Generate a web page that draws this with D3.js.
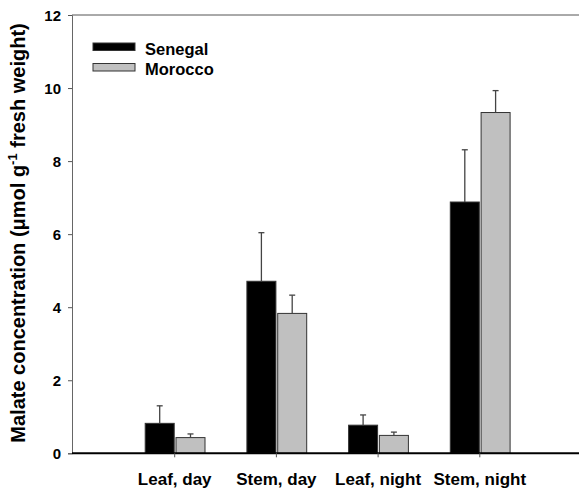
<!DOCTYPE html>
<html>
<head>
<meta charset="utf-8">
<script src="https://cdn.jsdelivr.net/npm/d3@7"></script>
<style>
  body { margin: 0; background: #fff; }
  text { font-family: Arial, "Liberation Sans", sans-serif; font-weight: bold; }
</style>
</head>
<body>
<div id="chart"></div>
<script>
// data
var categories = ["Leaf, day", "Stem, day", "Leaf, night", "Stem, night"]
var senegal    = [0.82, 4.71, 0.77, 6.88]
var senegalErr = [0.48, 1.33, 0.28, 1.43]
var morocco    = [0.43, 3.83, 0.49, 9.33]
var moroccoErr = [0.10, 0.50, 0.09, 0.60]
var yTicks = [0, 2, 4, 6, 8, 10, 12]

var svg = d3.select("#chart").append("svg")
  .attr("width", 579)
  .attr("height", 490)

// category i sits at position i+1 on a 0..5 axis
var xScale = d3.scaleLinear()
  .domain([0, 5])
  .range([73, 581.5])

var yScale = d3.scaleLinear()
  .domain([0, 12])
  .range([453.3, 15])

var barW = 29

// frame: top line and left axis are thin grey, bottom is heavy black
svg.append("line")
  .attr("x1", 72).attr("x2", 579)
  .attr("y1", yScale(12)).attr("y2", yScale(12))
  .style("stroke", "#555").style("stroke-width", 1)

var yAxis = d3.axisLeft(yScale).tickValues(yTicks).tickSize(4).tickPadding(7)
var gy = svg.append("g")
  .attr("transform", "translate(72,0)")
  .call(yAxis)
gy.select(".domain").style("stroke", "#666")
gy.selectAll(".tick line").style("stroke", "#555")
gy.selectAll(".tick text")
  .style("font-size", "15px")
  .style("fill", "#000")
  .attr("dy", "0.35em")

// y title
svg.append("text")
  .attr("transform", "translate(25," + 233 + ") rotate(-90)")
  .attr("text-anchor", "middle")
  .style("font-size", "20px")
  .html("Malate concentration (μmol g<tspan dy='-8' font-size='13px'>-1</tspan><tspan dy='8'> fresh weight)</tspan>")

// bars
function drawSeries(vals, errs, offset, fill, stroke) {
  for (var i = 0; i < vals.length; i++) {
    var cx = xScale(i + 1)
    var x0 = cx + offset
    svg.append("rect")
      .attr("x", x0)
      .attr("y", yScale(vals[i]))
      .attr("width", barW)
      .attr("height", yScale(0) - yScale(vals[i]))
      .style("fill", fill)
      .style("stroke", stroke)
      .style("stroke-width", 1)

    var ex = x0 + barW / 2
    svg.append("line")
      .attr("x1", ex).attr("x2", ex)
      .attr("y1", yScale(vals[i])).attr("y2", yScale(vals[i] + errs[i]))
      .style("stroke", "#444").style("stroke-width", 1.3)
    svg.append("line")
      .attr("x1", ex - 3).attr("x2", ex + 3)
      .attr("y1", yScale(vals[i] + errs[i])).attr("y2", yScale(vals[i] + errs[i]))
      .style("stroke", "#444").style("stroke-width", 1.3)
  }
}
drawSeries(senegal, senegalErr, -29.5, "#000", "#333")
drawSeries(morocco, moroccoErr, 1.3, "#c0c0c0", "#333")

// x axis
svg.append("line")
  .attr("x1", 72).attr("x2", 579)
  .attr("y1", yScale(0)).attr("y2", yScale(0))
  .style("stroke", "#000").style("stroke-width", 2)

for (var i = 0; i < categories.length; i++) {
  svg.append("line")
    .attr("x1", xScale(i + 1)).attr("x2", xScale(i + 1))
    .attr("y1", yScale(0)).attr("y2", yScale(0) + 4)
    .style("stroke", "#555")
  svg.append("text")
    .attr("x", xScale(i + 1))
    .attr("y", 485)
    .attr("text-anchor", "middle")
    .style("font-size", "17px")
    .text(categories[i])
}

// legend
var legend = [["Senegal", "#000"], ["Morocco", "#c0c0c0"]]
legend.forEach(function(d, k) {
  var ly = 47 + k * 20.5
  svg.append("rect")
    .attr("x", 93).attr("y", ly - 4)
    .attr("width", 42).attr("height", 7.5)
    .style("fill", d[1]).style("stroke", "#333")
  svg.append("text")
    .attr("x", 145).attr("y", ly + 7.5)
    .style("font-size", "16.5px")
    .text(d[0])
})
</script>
</body>
</html>
